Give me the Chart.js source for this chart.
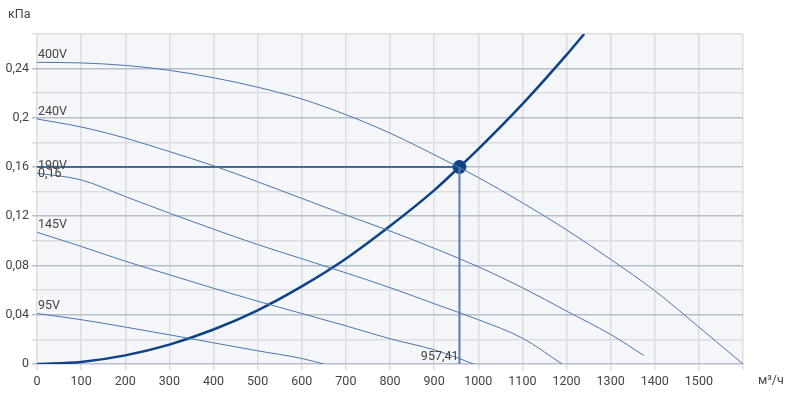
<!DOCTYPE html>
<html>
<head>
<meta charset="utf-8">
<script src="https://cdn.jsdelivr.net/npm/chart.js@4/dist/chart.umd.min.js"></script>
<style>
  html, body { margin: 0; padding: 0; background: #fff; }
  #wrap { width: 788px; height: 396px; position: relative; }
</style>
</head>
<body>
<div id="wrap"><canvas id="canvas"></canvas></div>
<script>
// fan curves, m3/h -> kPa
var flow400 = [0, 100, 200, 300, 400, 500, 600, 700, 800, 900, 1000, 1100, 1200, 1300, 1400, 1500, 1600];
var p400    = [0.245, 0.2445, 0.2425, 0.2385, 0.2325, 0.2248, 0.2152, 0.2025, 0.1875, 0.170, 0.1515, 0.131, 0.109, 0.085, 0.0595, 0.030, 0];
var flow240 = [0, 100, 200, 300, 400, 500, 600, 700, 800, 900, 1000, 1100, 1200, 1300, 1375];
var p240    = [0.199, 0.1925, 0.1835, 0.1725, 0.161, 0.148, 0.1345, 0.121, 0.108, 0.094, 0.079, 0.062, 0.043, 0.024, 0.007];
var flow190 = [0, 100, 200, 300, 400, 500, 600, 700, 800, 900, 1000, 1100, 1190];
var p190    = [0.155, 0.1495, 0.136, 0.1225, 0.1095, 0.097, 0.0855, 0.074, 0.062, 0.049, 0.036, 0.021, 0];
var flow145 = [0, 100, 200, 300, 400, 500, 600, 700, 800, 900, 990];
var p145    = [0.107, 0.0955, 0.0835, 0.0725, 0.0615, 0.051, 0.041, 0.031, 0.0205, 0.0115, 0];
var flow95  = [0, 100, 200, 300, 400, 500, 600, 650];
var p95     = [0.041, 0.036, 0.030, 0.0237, 0.0172, 0.0107, 0.0045, 0];
// system (network) curve
var flowSys = [0, 100, 200, 300, 400, 500, 600, 700, 800, 900, 957.41, 1000, 1100, 1200, 1240];
var pSys    = [0, 0.0017, 0.007, 0.0157, 0.028, 0.0436, 0.063, 0.0855, 0.112, 0.141, 0.16, 0.1745, 0.211, 0.251, 0.268];
// operating point
var workFlow = 957.41;
var workP = 0.16;

var curveNames = ['400V', '240V', '190V', '145V', '95V'];
var curveFlows = [flow400, flow240, flow190, flow145, flow95];
var curvePs = [p400, p240, p190, p145, p95];

function pts(xs, ys) {
    return xs.map(function(x, i){ return {x: x, y: ys[i]}; });
}
function fmt(v) {
    return String(+v.toFixed(2)).replace('.', ',');
}

var datasets = [];
curveNames.forEach(function(n, i){
    datasets.push({
        label: n,
        data: pts(curveFlows[i], curvePs[i]),
        borderColor: '#4a77b0',
        borderWidth: 1,
        pointRadius: 0,
        showLine: true,
        cubicInterpolationMode: 'monotone',
        fill: false
    });
});
datasets.push({
    label: 'hline',
    data: [{x: 0, y: workP}, {x: workFlow, y: workP}],
    borderColor: '#1d4a86',
    borderWidth: 1.5,
    pointRadius: 0,
    showLine: true
});
datasets.push({
    label: 'vline',
    data: [{x: workFlow, y: workP}, {x: workFlow, y: 0}],
    borderColor: '#5a7cae',
    borderWidth: 2,
    pointRadius: 0,
    showLine: true
});
datasets.push({
    label: 'system',
    data: pts(flowSys, pSys),
    borderColor: '#0d4285',
    borderWidth: 2.5,
    pointRadius: 0,
    showLine: true,
    cubicInterpolationMode: 'monotone'
});
datasets.push({
    label: 'point',
    data: [{x: workFlow, y: workP}],
    showLine: false,
    pointRadius: 6.5,
    pointBackgroundColor: '#0d4285',
    pointBorderColor: '#0d4285',
    pointBorderWidth: 1
});
datasets.push({
    label: 'point2',
    data: [{x: workFlow, y: workP}],
    showLine: false,
    pointRadius: 4.3,
    pointBackgroundColor: '#0d4285',
    pointBorderColor: 'rgba(255,255,255,0.75)',
    pointBorderWidth: 1
});

var bgPlugin = {
    id: 'bg',
    beforeDraw: function(chart){
        var a = chart.chartArea, c = chart.ctx;
        c.save();
        c.fillStyle = '#f4f6f9';
        c.fillRect(a.left, a.top, a.right - a.left, a.bottom - a.top);
        c.restore();
    }
};

var labelPlugin = {
    id: 'labels',
    afterDatasetsDraw: function(chart){
        var c = chart.ctx, xs = chart.scales.x, ys = chart.scales.y, a = chart.chartArea;
        c.save();
        c.font = '12.5px Roboto, "Noto Sans", sans-serif';
        c.fillStyle = '#444';
        c.textAlign = 'left';
        c.textBaseline = 'bottom';
        curveNames.forEach(function(n, i){
            c.fillText(n, xs.getPixelForValue(0) + 1, ys.getPixelForValue(curvePs[i][0]) - 1);
        });
        c.textBaseline = 'top';
        c.fillText(fmt(workP), xs.getPixelForValue(0) + 1, ys.getPixelForValue(workP) + 0.5);
        c.textAlign = 'right';
        c.textBaseline = 'bottom';
        c.fillText(String(workFlow).replace('.', ','), xs.getPixelForValue(workFlow) - 1, ys.getPixelForValue(0) - 1);
        // axis titles
        c.textAlign = 'left';
        c.textBaseline = 'middle';
        c.fillText('кПа', 8, 15);
        c.fillText('м³/ч', a.right + 15, a.bottom + 17);
        c.restore();
    }
};

var config = {
    type: 'scatter',
    data: { datasets: datasets },
    plugins: [bgPlugin, labelPlugin],
    options: {
        responsive: false,
        animation: false,
        layout: { padding: { top: 34, right: 45, left: 0, bottom: 0 } },
        plugins: { legend: { display: false }, tooltip: { enabled: false } },
        scales: {
            x: {
                type: 'linear',
                min: 0,
                max: 1600,
                afterFit: function(s){ s.height = 32; },
                ticks: {
                    stepSize: 100,
                    padding: 4,
                    color: '#444',
                    font: { family: 'Roboto, "Noto Sans", sans-serif', size: 12.5 },
                    maxRotation: 0,
                    callback: function(v){ return v >= 1600 ? '' : String(v); }
                },
                grid: { color: '#dcdde0', lineWidth: 1.5, tickLength: 6 },
                border: { display: false }
            },
            y: {
                type: 'linear',
                min: 0,
                max: 0.268,
                afterFit: function(s){ s.width = 37; },
                ticks: {
                    stepSize: 0.02,
                    padding: 3,
                    color: '#444',
                    font: { family: 'Roboto, "Noto Sans", sans-serif', size: 12.5 },
                    callback: function(v){
                        var k = Math.round(v / 0.02);
                        if (Math.abs(v - k * 0.02) > 1e-6 || k % 2 !== 0) return '';
                        return fmt(v);
                    }
                },
                grid: {
                    lineWidth: 1.5,
                    tickLength: 5,
                    color: function(ctx){
                        var v = ctx.tick ? ctx.tick.value : 0;
                        var k = Math.round(v / 0.02);
                        if (Math.abs(v - k * 0.02) < 1e-6 && k % 2 === 0) return '#b7bfcc';
                        return '#dcdde0';
                    }
                },
                border: { display: false }
            }
        }
    }
};

var canvas = document.getElementById('canvas');
canvas.width = 788;
canvas.height = 396;
window.myChart = new Chart(canvas.getContext('2d'), config);
</script>
</body>
</html>
